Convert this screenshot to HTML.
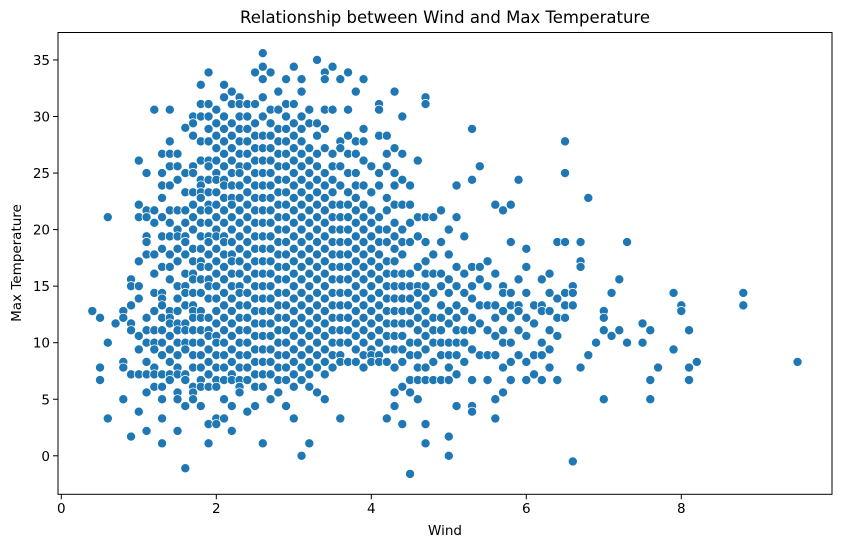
<!DOCTYPE html>
<html><head><meta charset="utf-8"><style>
html,body{margin:0;padding:0;background:#fff;}
svg{display:block;font-family:"DejaVu Sans","Liberation Sans",sans-serif;}
</style></head><body>
<svg id="chart" width="841" height="547" viewBox="0 0 841 547" xmlns="http://www.w3.org/2000/svg">
<text x="445" y="23" font-size="16.5" text-anchor="middle" fill="#000">Relationship between Wind and Max Temperature</text>
<g id="points"></g>
<g id="xaxis"></g>
<g id="yaxis"></g>
<rect x="58" y="32.5" width="774" height="461.8" fill="none" stroke="#000" stroke-width="1"/>
<text x="445" y="535" font-size="13.5" text-anchor="middle">Wind</text>
<text x="0" y="0" font-size="13.5" text-anchor="middle" transform="translate(21,263) rotate(-90)">Max Temperature</text>
</svg>
<script>
const windLevels = [0.4,0.5,0.6,0.7,0.8,0.9,1.0,1.1,1.2,1.3,1.4,1.5,1.6,1.7,1.8,1.9,2.0,2.1,2.2,2.3,2.4,2.5,2.6,2.7,2.8,2.9,3.0,3.1,3.2,3.3,3.4,3.5,3.6,3.7,3.8,3.9,4.0,4.1,4.2,4.3,4.4,4.5,4.6,4.7,4.8,4.9,5.0,5.1,5.2,5.3,5.4,5.5,5.6,5.7,5.8,5.9,6.0,6.1,6.2,6.3,6.4,6.5,6.6,6.7,6.8,6.9,7.0,7.1,7.2,7.3,7.5,7.6,7.7,7.9,8.0,8.1,8.2,8.8,9.5];
const maxTemps = [
[12.8],[12.2,7.8,6.7],[21.1,10,3.3],[11.7],[12.8,12.2,8.3,7.8,5],[15.6,15,13.3,11.7,11.1,7.2,1.7],
[26.1,22.2,21.1,17.2,15,13.9,10.6,9.4,7.2,3.9],
[25,21.7,21.1,19.4,18.9,17.8,12.2,11.1,10,8.3,7.2,5.6,2.2],
[30.6,21.7,20.6,17.8,16.1,14.4,12.8,11.1,10,9.4,7.8,7.2,6.1],
[26.7,25,23.9,22.8,21.1,19.4,18.3,16.7,14.4,13.9,13.3,12.2,11.1,10,8.9,7.2,6.1,5,3.3,1.1],
[30.6,27.8,26.7,25.6,23.9,21.7,20.6,19.4,17.8,16.7,15.6,12.8,12.2,11.7,10.6,9.4,8.3,7.2,6.7],
[26.7,25.6,24.4,21.7,20,19.4,18.3,17.2,15,13.9,12.8,11.7,11.1,10,8.9,7.8,7.2,5.6,5,2.2],
[29,25,23.3,21.7,20.6,19.4,18.9,17.8,16.1,15,14.4,13.3,11.7,11.1,10,9.4,7.2,6.7,4.4,-1.1],
[30,29.4,28.3,25.6,25,23.3,22.2,21.1,20,18.3,17.2,16.1,15.6,14.4,13.3,12.8,12.2,11.1,10,8.9,7.8,6.1,5.6,5],
[32.8,31.1,30,27.8,26.1,24.4,23.9,23.3,22.8,21.7,20.6,19.4,18.3,17.2,16.7,15.6,14.4,12.8,12.2,11.1,10,8.9,7.8,6.7,6.1,4.4],
[33.9,31.1,30,28.9,27.8,26.1,25.6,24.4,23.3,22.2,21.7,20.6,19.4,18.9,17.8,16.7,15.6,15,13.9,12.2,11.1,10.6,9.4,8.3,7.2,6.1,2.8,1.1],
[30.6,29.4,28.3,27.2,26.1,25,24.4,23.3,22.2,21.1,20,19.4,18.3,17.2,16.1,15,13.9,12.8,11.7,10.6,10,8.9,7.8,6.7,6.1,3.3,2.8],
[32.8,31.7,30,28.9,27.8,26.7,25.6,24.4,23.9,22.8,21.7,20.6,19.4,18.9,17.8,16.7,15.6,14.4,13.3,12.2,11.1,10,8.9,7.8,6.7,5,3.3],
[32.2,31.1,29.4,28.3,27.2,26.1,25,23.9,22.8,22.2,21.1,20,18.9,17.8,17.2,16.1,15,13.9,12.8,11.7,10.6,9.4,8.3,7.2,6.7,4.4,2.2],
[31.7,31.1,30,28.9,27.8,26.7,25.6,25,23.9,22.8,21.7,20.6,19.4,18.3,17.2,16.1,15,14.4,13.3,12.2,11.1,10,8.9,7.8,6.7,6.1,5.6],
[31.1,30,28.9,27.8,26.7,25.6,24.4,23.3,22.2,21.1,20,18.9,17.8,16.7,15.6,14.4,13.3,12.2,11.1,10,8.9,7.8,6.7,3.9],
[33.9,31.1,29.4,28.3,27.2,26.1,25,23.9,22.8,21.7,20.6,19.4,18.3,17.2,16.1,15,13.9,12.8,11.7,10.6,9.4,8.3,7.2,6.1,4.4],
[35.6,34.4,33.3,31.7,30,28.3,27.2,26.1,25,23.9,22.8,21.7,20.6,19.4,18.3,17.2,16.1,15,13.9,12.8,11.7,10.6,9.4,8.3,7.2,6.1,1.1],
[33.9,30.6,29.4,28.3,27.2,26.1,25,23.9,22.8,21.7,20.6,19.4,18.3,17.2,16.1,15,13.9,12.8,11.7,10.6,9.4,8.3,7.2,5],
[32.2,30.6,28.9,27.8,26.7,25.6,24.4,23.3,22.2,21.1,20,18.9,17.8,16.7,15.6,14.4,13.3,12.2,11.1,10,8.9,7.8,6.7,5.6],
[33.3,31.1,30,28.9,27.8,26.7,25.6,24.4,23.3,22.2,21.1,20,18.9,17.8,16.7,15.6,14.4,13.3,12.2,11.1,10,8.9,7.8,6.7,4.4],
[34.4,31.1,29.4,28.3,27.2,26.1,25,23.9,22.8,21.7,20.6,19.4,18.3,17.2,16.1,15,13.9,12.8,11.7,10.6,9.4,8.3,7.2,6.1,3.3],
[33.3,32.2,30,28.9,27.8,26.7,25.6,24.4,23.3,22.2,21.1,20,18.9,17.8,16.7,15.6,14.4,13.3,12.2,11.1,10,8.9,7.8,6.7,0],
[30.6,29.4,27.2,26.1,25,23.9,22.8,21.7,20.6,19.4,18.3,17.2,16.1,15,13.9,12.8,11.7,10.6,9.4,8.3,7.2,6.1,1.1],
[35,29.4,28.3,26.7,25.6,24.4,23.3,22.2,21.1,20,18.9,17.8,16.7,15.6,14.4,13.3,12.2,11.1,10,8.9,7.8,5.6],
[33.9,33.3,30.6,28.9,27.2,25,23.9,22.8,21.7,20.6,19.4,18.3,17.2,16.1,15,13.9,12.8,11.7,10.6,9.4,8.3,7.2,5],
[34.4,30.6,26.7,25.6,24.4,23.3,22.2,21.1,20,18.9,17.8,16.7,15.6,14.4,13.3,12.2,11.1,10,8.9,7.8],
[33.3,27.8,27.2,25.6,23.9,22.2,21.1,20,18.9,17.8,16.7,15.6,14.4,13.3,12.2,11.1,10,8.9,8.3,3.3],
[33.9,30.6,28.3,26.7,25,23.3,22.2,21.1,20,18.9,17.8,16.7,15.6,14.4,13.3,12.2,11.1,10,8.3],
[32.2,27.8,26.7,25,23.9,22.8,21.7,20.6,19.4,18.3,17.2,16.1,15,13.9,12.8,11.7,10.6,9.4,8.3],
[33.3,28.9,27.8,26.1,23.9,22.2,21.1,20,18.9,17.8,16.7,15.6,14.4,13.3,12.2,11.1,10,8.9,7.8],
[25.6,23.3,21.7,20.6,19.4,18.3,17.2,16.1,15,13.9,12.8,11.7,10.6,9.4,8.9,8.3],
[31.1,30.6,28.3,25,23.9,21.1,20,18.9,17.8,16.7,15.6,14.4,13.3,12.2,11.1,10,8.9,8.3],
[28.3,26.7,25.6,22.8,21.7,20,18.9,17.2,16.1,15,13.9,12.8,11.7,10.6,9.4,8.3,3.3],
[32.2,27.2,25,23.9,22.2,20.6,19.4,18.3,17.2,16.1,15,13.9,12.8,11.7,10.6,9.4,7.8,5.6,4.4],
[30,26.7,24.4,22.2,20,18.9,17.8,16.1,15,13.9,12.8,11.7,10.6,9.4,8.3,6.1,2.8],
[23.9,22.2,20.6,18.9,16.1,15,13.9,12.8,11.7,10,8.9,6.7,5.6,-1.6],
[26.1,21.1,19.4,16.7,15,14.4,13.3,12.2,11.1,10,8.9,7.8,6.7,5],
[31.7,31.1,21.1,18.9,17.2,16.1,15,13.9,12.8,11.7,10.6,9.4,7.8,6.7,2.8,1.1],
[21.1,17.8,16.1,14.4,12.2,11.1,10,8.3,6.7],
[21.7,18.9,16.1,15,13.3,12.2,11.1,10,8.9,6.7],
[20,17.8,15.6,14.4,12.8,11.7,10,8.9,7.8,6.7,1.7,0],
[23.9,21.1,16.7,15,13.3,12.2,11.1,10,8.9,7.2,4.4],
[19.4,16.1,14.4,12.8,11.1,10,8.3],
[28.9,24.4,16.7,15,13.9,12.2,11.1,9.4,6.7,4.4,3.9],
[25.6,16.7,15.6,13.3,11.7,8.9],
[17.2,15,13.3,11.1,8.9,6.7],
[22.2,16.1,13.3,12.2,10.6,8.9,5,3.3],
[21.7,15,14.4,12.8,11.1,10,7.8,5.6],
[22.2,18.9,14.4,13.3,12.2,10,8.3,6.7],
[24.4,15.6,13.3,12.8,11.1,8.9],
[18.3,16.7,14.4,12.2,10.6,8.3,6.7],
[13.3,11.7,8.9,7.2],
[15.6,13.3,12.8,10,8.9,6.7],
[16.1,14.4,12.8,11.1,9.4,7.8],
[18.9,13.9,12.2,10.6,6.7],
[27.8,25,18.9,14.4,13.3,12.2],
[15,14.4,13.3,-0.5],
[18.9,17.2,16.7,7.8],
[22.8,8.9],[10],[12.8,12.2,11.1,5],[14.4,10.6],[15.6,11.1],[18.9,10],[11.7,10],[11.1,6.7,5],[7.8],[14.4,9.4],[13.3,12.8],[11.1,7.8,6.7],[8.3],[14.4,13.3],[8.3]
];
const xTicks = [0,2,4,6,8];
const yTicks = [0,5,10,15,20,25,30,35];

const NS = "http://www.w3.org/2000/svg";
const x0 = 61.3, xk = 77.5;
const y0 = 455.8, yk = 11.31;
function xs(v){ return x0 + v * xk; }
function ys(v){ return y0 - v * yk; }

const pts = document.getElementById('points');
windLevels.forEach((w, i) => {
  maxTemps[i].forEach(t => {
    const c = document.createElementNS(NS, 'circle');
    c.setAttribute('cx', xs(w));
    c.setAttribute('cy', ys(t));
    c.setAttribute('r', 4.6);
    c.setAttribute('fill', '#1f77b4');
    c.setAttribute('stroke', '#ffffff');
    c.setAttribute('stroke-width', 0.8);
    
    
    pts.appendChild(c);
  });
});

const xa = document.getElementById('xaxis');
xTicks.forEach(v => {
  const l = document.createElementNS(NS, 'line');
  l.setAttribute('x1', xs(v)); l.setAttribute('x2', xs(v));
  l.setAttribute('y1', 494.3); l.setAttribute('y2', 499.3);
  l.setAttribute('stroke', '#000');
  
  
  xa.appendChild(l);
  const t = document.createElementNS(NS, 'text');
  t.setAttribute('x', xs(v)); t.setAttribute('y', 513);
  t.setAttribute('font-size', '13.5'); t.setAttribute('text-anchor', 'middle');
  
  
  t.textContent = v;
  xa.appendChild(t);
});
const ya = document.getElementById('yaxis');
yTicks.forEach(v => {
  const l = document.createElementNS(NS, 'line');
  l.setAttribute('x1', 53); l.setAttribute('x2', 58);
  l.setAttribute('y1', ys(v)); l.setAttribute('y2', ys(v));
  l.setAttribute('stroke', '#000');
  
  
  ya.appendChild(l);
  const t = document.createElementNS(NS, 'text');
  t.setAttribute('x', 50); t.setAttribute('y', ys(v) + 5);
  t.setAttribute('font-size', '13.5'); t.setAttribute('text-anchor', 'end');
  
  
  t.textContent = v;
  ya.appendChild(t);
});
</script>
</body></html>
